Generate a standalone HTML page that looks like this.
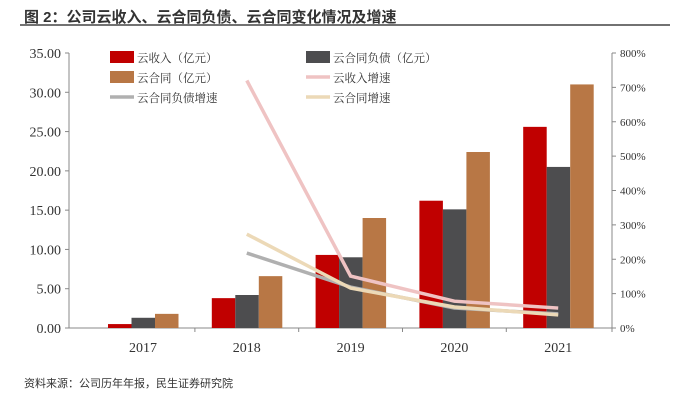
<!DOCTYPE html>
<html><head><meta charset="utf-8"><style>
body{margin:0;background:#fff;width:691px;height:401px;overflow:hidden;font-family:"Liberation Serif","Noto Serif CJK SC",serif}
</style></head><body>
<svg width="691" height="401" xmlns="http://www.w3.org/2000/svg">
<text x="24" y="22" font-family="'Liberation Sans','Noto Sans CJK SC',sans-serif" font-weight="bold" font-size="15" fill="#333">图 2：公司云收入、云合同负债、云合同变化情况及增速</text>
<line x1="20" y1="25" x2="670" y2="25" stroke="#444" stroke-width="1.5"/>
<g id="axes"></g><g id="bars"></g><g id="lines"></g><g id="legend"></g>
<text x="24" y="387" font-family="'Liberation Sans','Noto Sans CJK SC',sans-serif" font-size="11" fill="#333">资料来源：公司历年年报，民生证券研究院</text>
</svg>
<script>
const categories=["2017","2018","2019","2020","2021"];
const revenue=[0.5,3.8,9.3,16.2,25.6];
const debt=[1.3,4.2,9.0,15.1,20.5];
const contract=[1.8,6.6,14.0,22.4,31.0];
const revGrowth=[null,720,151,78,58];
const debtGrowth=[null,218,119,58,41];
const contractGrowth=[null,273,116,61,38];
const leftTicks=["0.00","5.00","10.00","15.00","20.00","25.00","30.00","35.00"];
const rightTicks=["0%","100%","200%","300%","400%","500%","600%","700%","800%"];
const NS="http://www.w3.org/2000/svg";
const X0=69,X1=612,Y0=328,Y1=53;
const yL=v=>Y0-(v/35)*(Y0-Y1), yR=v=>Y0-(v/800)*(Y0-Y1);
const xC=i=>143+i*103.8;
function mk(tag,attrs,parent,txt){const e=document.createElementNS(NS,tag);for(const k in attrs)e.setAttribute(k,attrs[k]);if(txt!==undefined)e.textContent=txt;document.getElementById(parent).appendChild(e);return e;}
let e;
e=mk("line",{x1:X0,y1:Y1,x2:X0,y2:Y0,stroke:"#888"},"axes");


e=mk("line",{x1:X1,y1:Y1,x2:X1,y2:Y0+4,stroke:"#888"},"axes");


e=mk("line",{x1:X0-4,y1:Y0,x2:X1,y2:Y0,stroke:"#888"},"axes");


leftTicks.forEach((t,i)=>{const y=yL(i*5);
 mk("line",{x1:X0-4,y1:y,x2:X0,y2:y,stroke:"#888"},"axes");
 e=mk("text",{x:X0-8,y:y+5,"text-anchor":"end","font-size":"14",fill:"#333"},"axes",t);
 
 });
rightTicks.forEach((t,i)=>{const y=yR(i*100);
 mk("line",{x1:X1,y1:y,x2:X1+4,y2:y,stroke:"#888"},"axes");
 e=mk("text",{x:X1+8,y:y+4,"font-size":"11",fill:"#333"},"axes",t);
 
 });
categories.forEach((c,i)=>{
 if(i>0){mk("line",{x1:xC(i)-51.9,y1:Y0,x2:xC(i)-51.9,y2:Y0+4,stroke:"#888"},"axes");}
 e=mk("text",{x:xC(i),y:Y0+24,"text-anchor":"middle","font-size":"14",fill:"#333"},"axes",c);
 
 
 [[revenue,"#c00000",-35],[debt,"#4d4d4f",-11.5],[contract,"#b87745",12]].forEach(([arr,col,off],k)=>{
  const y=yL(arr[i]);
  e=mk("rect",{x:xC(i)+off,y:y,width:23.5,height:Y0-y,fill:col},"bars");
  
  
 });
});
[[debtGrowth,"#b0b0b0","debt-growth-line"],[contractGrowth,"#ecd9b7","contract-growth-line"],[revGrowth,"#efc3c3","revenue-growth-line"]].forEach(([arr,col,nm])=>{
 const pts=arr.map((v,i)=>v==null?null:xC(i)+","+yR(v)).filter(p=>p).join(" ");
 e=mk("polyline",{points:pts,fill:"none",stroke:col,"stroke-width":"3.5"},"lines");
 
 
});
const legendItems=[["rect","#c00000","云收入（亿元）",110,57],["rect","#4d4d4f","云合同负债（亿元）",306,57],["rect","#b87745","云合同（亿元）",110,77],["line","#efc3c3","云收入增速",306,77],["line","#b0b0b0","云合同负债增速",110,97],["line","#ecd9b7","云合同增速",306,97]];
legendItems.forEach(([t,col,lab,x,y])=>{
 if(t==="rect")e=mk("rect",{x:x,y:y-6,width:24,height:12,fill:col},"legend");
 else e=mk("line",{x1:x,y1:y,x2:x+24,y2:y,stroke:col,"stroke-width":"3.5"},"legend");
 
 
 e=mk("text",{x:x+27,y:y+5,"font-size":"11.5",fill:"#333"},"legend",lab);
 
 
});
</script>
</body></html>
